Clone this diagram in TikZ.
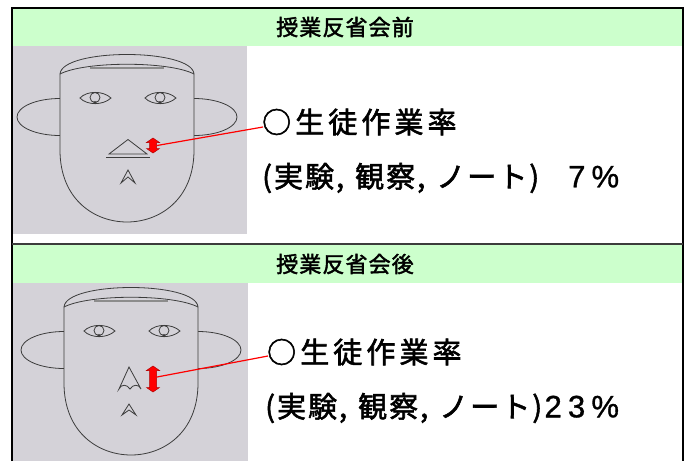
\documentclass[tikz,border=0pt]{standalone}
\usepackage{fontspec}
\usetikzlibrary{calc}
\newfontfamily\jpwide[LetterSpace=14, FakeBold=2]{Noto Sans CJK JP}
\newfontfamily\jpnarrow[LetterSpace=7, FakeBold=2]{Noto Sans CJK JP}
\newfontfamily\jphead[LetterSpace=5, FakeBold=2]{Noto Sans CJK JP}
\newfontfamily\numfont[LetterSpace=20, FakeBold=1]{Liberation Sans}
\definecolor{hdr}{RGB}{204,255,204}
\definecolor{facebg}{RGB}{212,210,216}
\definecolor{ink}{RGB}{60,60,60}
\definecolor{barc}{RGB}{140,140,140}

% one eye: almond, iris and pupil; #1 = x centre
\newcommand\faceeye[1]{%
  \draw[faceline] (#1-15,98) .. controls (#1-8,90.5) and (#1+8,90.5) .. (#1+16,98)
                             .. controls (#1+8,105.5) and (#1-8,105.5) .. cycle;
  \draw[faceline] (#1,97.5) circle[radius=5];
  \fill[ink] (#1,102.5) circle[radius=1.7];
}
% ears, head and eyes; placed with a scope shift
\newcommand\faceoutline{%
  \draw[faceline] (60,98.5) arc[start angle=270, end angle=90, x radius=43, y radius=18.5];
  \draw[faceline] (194,98.5) arc[start angle=-90, end angle=90, x radius=43, y radius=18.5];
  \draw[faceline, fill=facebg] (60,74) -- (60,150) .. controls (60,200) and (95,222) .. (127,222)
        .. controls (159,222) and (194,200) .. (194,150) -- (194,74);
  \draw[faceline] (60,74) .. controls (62,48) and (192,48) .. (194,74);
  \draw[faceline] (60,74) .. controls (85,61) and (169,61) .. (194,74);
  \draw[hairbar] (90,68) -- (164,68);
  \faceeye{95}
  \faceeye{160}
}
% vertical double arrow: #1 = x centre, #2 = top, #3 = bottom
\newcommand\redupdown[3]{%
  \filldraw[updown] (#1,#2) -- (#1+6.5,#2+4.5) -- (#1+3.5,#2+4.5) -- (#1+3.5,#3-4.5)
     -- (#1+6.5,#3-4.5) -- (#1,#3) -- (#1-6.5,#3-4.5) -- (#1-3.5,#3-4.5)
     -- (#1-3.5,#2+4.5) -- (#1-6.5,#2+4.5) -- cycle;
}

\begin{document}
\begin{tikzpicture}[x=1pt, y=-1pt,
  faceline/.style={ink, line width=0.8pt},
  hairbar/.style={barc, line width=2.6pt},
  updown/.style={fill=red, draw=red!70!black, line width=0.5pt},
  heading/.style={font=\jphead\fontsize{22}{22}\selectfont, inner sep=0pt},
  title/.style={font=\jpwide\fontsize{29}{29}\selectfont, anchor=west, inner sep=0pt},
  detail/.style={font=\jpnarrow\fontsize{29}{29}\selectfont, anchor=west, inner sep=0pt},
  figs/.style={font=\numfont\fontsize{31}{31}\selectfont, anchor=base east, inner sep=0pt},
  lead/.style={red, line width=1.2pt},
  frame/.style={black, line width=2.4pt}]
\useasboundingbox (0,0) rectangle (687,461);
\fill[white] (0,0) rectangle (687,461);

% header bands and picture panels
\fill[hdr] (12,8) rectangle (683,46);
\fill[facebg] (13,46) rectangle (247,234);
\fill[hdr] (12,245) rectangle (683,283);
\fill[facebg] (13,283) rectangle (248,461);

% frame
\draw[frame] (12,461) -- (12,8) -- (683,8) -- (683,461);
\draw[ink, line width=2pt] (12,244) -- (683,244);

\node[heading] (h1) at (345,27) {授業反省会前};
\node[heading] (h2) at (345,264) {授業反省会後};

% ---------- before ----------
\faceoutline
\draw[faceline] (128,139.5) -- (147,154) -- (109,154) -- cycle;
\draw[faceline] (106,157) -- (150,157);
\draw[faceline] (121,183) -- (128,170) -- (135,183) -- (128,177) -- cycle;
\redupdown{153}{138}{153}
\coordinate (arrA) at (157,145.5);
\node[title] (tA) at (262,122) {○生徒作業率};
\node[detail] (sA) at (262,178) {(実験,\hspace{11pt}観察,\hspace{11pt}ノート)};
\node[figs] (pA) at ($(sA.base east)+(80,0)$) {7\%};
\draw[lead] (arrA) -- ($(tA.west)+(1,5)$);

% ---------- after ----------
\begin{scope}[shift={(4,233)}]
  \faceoutline
\end{scope}
\draw[faceline] (129,367) -- (141,389) .. controls (139,384) and (133,384) .. (130,389)
      .. controls (127,384) and (121,384) .. (119,389) -- cycle;
\draw[faceline] (122,415) -- (129,404) -- (136,415) -- (129,410) -- cycle;
\redupdown{153}{366}{392}
\coordinate (arrB) at (157,377);
\node[title] (tB) at (267,352) {○生徒作業率};
\node[detail] (sB) at (265,408) {(実験,\hspace{11pt}観察,\hspace{11pt}ノート)};
\node[figs, anchor=base west] (pB) at ($(sB.base east)+(2,0)$) {23\%};
\draw[lead] (arrB) -- ($(tB.west)+(1,4)$);
\end{tikzpicture}
\end{document}
